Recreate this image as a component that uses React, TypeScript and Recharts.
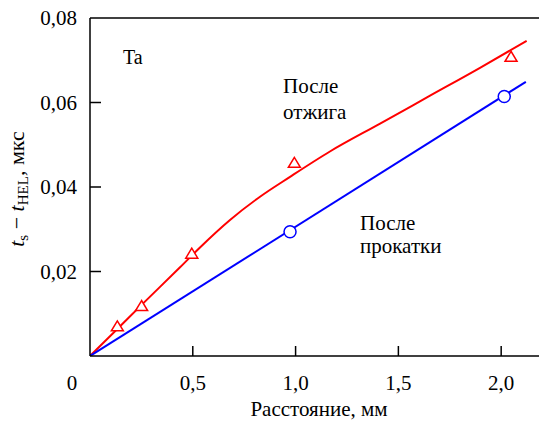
import React from "react";
import { ComposedChart, Line, Scatter, XAxis, YAxis, ReferenceLine } from "recharts";

// Red curve (после отжига)
const annealCurveX = [0, 0.133, 0.251, 0.438, 0.535, 0.681, 0.827, 0.973, 1.167, 1.411, 1.654, 1.897, 2.124];
const annealCurveY = [0, 0.0064, 0.0121, 0.021, 0.0257, 0.0322, 0.0377, 0.0424, 0.0484, 0.055, 0.0616, 0.0682, 0.0746];
// Red triangles
const annealPtsX = [0.133, 0.251, 0.495, 0.994, 2.048];
const annealPtsY = [0.0069, 0.0117, 0.0241, 0.0456, 0.0707];
// Blue line (после прокатки)
const rolledLineX = [0, 2.12];
const rolledLineY = [0, 0.0649];
// Blue circles
const rolledPtsX = [0.973, 2.015];
const rolledPtsY = [0.0294, 0.0614];

const xTicks = [0, 0.5, 1, 1.5, 2];
const xTickLabels = ["0", "0,5", "1,0", "1,5", "2,0"];
const yTicks = [0.02, 0.04, 0.06, 0.08];
const yTickLabels = ["0,02", "0,04", "0,06", "0,08"];

const zip = (xs: number[], ys: number[]) => xs.map((x, i) => ({ x, y: ys[i] }));

const FS = { fontFamily: "Liberation Serif" };

const XTick = (props: any) => {
  const { x, y, payload } = props;
  const idx = xTicks.indexOf(payload.value);
  const label = xTickLabels[idx] ?? String(payload.value);
  const isZero = payload.value === 0;
  return (
    <g>
      {!isZero && <line x1={x} x2={x} y1={y} y2={y - 10} stroke="#000" strokeWidth={1.5} />}
      <text x={isZero ? x - 18 : x} y={y + 34} textAnchor="middle" style={FS} fontSize={21} fill="#000">
        {label}
      </text>
    </g>
  );
};

const YTick = (props: any) => {
  const { x, y, payload } = props;
  const idx = yTicks.indexOf(payload.value);
  const label = yTickLabels[idx] ?? String(payload.value);
  const isTop = payload.value === 0.08;
  return (
    <g>
      {!isTop && <line x1={x} x2={x + 11} y1={y} y2={y} stroke="#000" strokeWidth={1.5} />}
      <text x={x - 13} y={y + 7} textAnchor="end" style={FS} fontSize={21} fill="#000">
        {label}
      </text>
    </g>
  );
};

const Triangle = (props: any) => {
  const { cx, cy } = props;
  if (cx == null || cy == null) return null;
  const h = 10, w = 12;
  const pts = `${cx},${cy - h * 0.6} ${cx - w / 2},${cy + h * 0.4} ${cx + w / 2},${cy + h * 0.4}`;
  return <polygon points={pts} fill="#fff" stroke="#ff0000" strokeWidth={1.5} />;
};

const Circle = (props: any) => {
  const { cx, cy } = props;
  if (cx == null || cy == null) return null;
  return <circle cx={cx} cy={cy} r={6} fill="#fff" stroke="#0000ff" strokeWidth={1.5} />;
};

const YLabel = () => (
  <text
    transform="rotate(-90, 24, 189)"
    x={24}
    y={189}
    textAnchor="middle"
    style={FS}
    fontSize={22}
    fill="#000"
  >
    <tspan fontStyle="italic">t</tspan>
    <tspan fontSize={15} dy={4}>s</tspan>
    <tspan dy={-4}>{"\u00A0−\u00A0"}</tspan>
    <tspan fontStyle="italic">t</tspan>
    <tspan fontSize={15} dy={4}>HEL</tspan>
    <tspan dy={-4}>, мкс</tspan>
  </text>
);

export default function App() {
  return (
    <div style={{ position: "absolute", left: 0, top: 0, width: 539, height: 425, background: "#fff" }}>
      <ComposedChart width={539} height={425} margin={{ top: 18, right: 0, left: 0, bottom: 0 }}>
        <XAxis
          type="number"
          dataKey="x"
          domain={[0, 2.184]}
          allowDataOverflow
          ticks={xTicks}
          tick={<XTick />}
          tickLine={false}
          tickSize={0}
          tickMargin={0}
          axisLine={{ stroke: "#000", strokeWidth: 1.5 }}
          height={69}
          interval={0}
        />
        <YAxis
          type="number"
          dataKey="y"
          domain={[0, 0.08]}
          allowDataOverflow
          ticks={yTicks}
          tick={<YTick />}
          tickLine={false}
          tickSize={0}
          tickMargin={0}
          axisLine={{ stroke: "#000", strokeWidth: 1.5 }}
          width={90}
          interval={0}
          label={{ content: () => <YLabel /> }}
        />
        <ReferenceLine y={0.08} stroke="#000" strokeWidth={1.5} />
        <Line
          data={zip(annealCurveX, annealCurveY)}
          dataKey="y"
          type="monotoneX"
          stroke="#ff0000"
          strokeWidth={2}
          dot={false}
          isAnimationActive={false}
        />
        <Line
          data={zip(rolledLineX, rolledLineY)}
          dataKey="y"
          type="linear"
          stroke="#0000ff"
          strokeWidth={2}
          dot={false}
          isAnimationActive={false}
        />
        <Scatter data={zip(annealPtsX, annealPtsY)} dataKey="y" shape={<Triangle />} isAnimationActive={false} />
        <Scatter data={zip(rolledPtsX, rolledPtsY)} dataKey="y" shape={<Circle />} isAnimationActive={false} />
      </ComposedChart>
      <svg
        width={539}
        height={425}
        style={{ position: "absolute", left: 0, top: 0, pointerEvents: "none" }}
      >
        <text x={123} y={64} style={FS} fontSize={20} fill="#000">Ta</text>
        <text x={283} y={93} style={FS} fontSize={21} fill="#000">После</text>
        <text x={283} y={119} style={FS} fontSize={21} fill="#000">отжига</text>
        <text x={360} y={230} style={FS} fontSize={21} fill="#000">После</text>
        <text x={360} y={253} style={FS} fontSize={21} fill="#000">прокатки</text>
        <text x={319} y={416} textAnchor="middle" style={FS} fontSize={21} fill="#000">Расстояние, мм</text>
      </svg>
    </div>
  );
}
